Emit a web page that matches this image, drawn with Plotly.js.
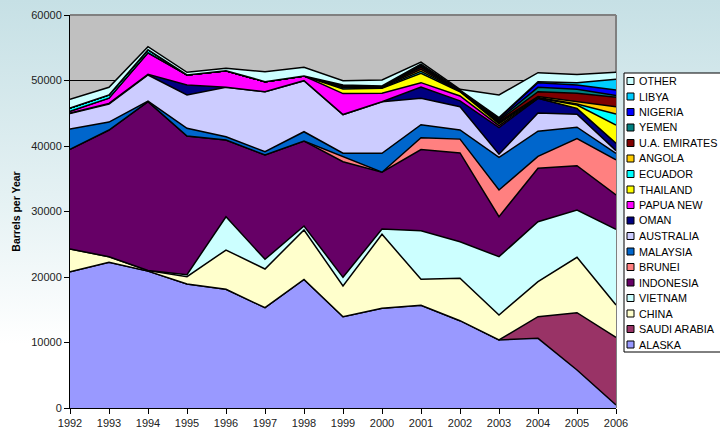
<!DOCTYPE html>
<html>
<head>
<meta charset="utf-8">
<script src="https://cdn.plot.ly/plotly-3.0.1.min.js"></script>
<style>
  html, body { margin:0; padding:0; }
  body { width:720px; height:430px; overflow:hidden;
         background: linear-gradient(to bottom, #c6e0e5 0%, #e4f1f3 45%, #ffffff 80%); }
  #chart { width:720px; height:430px; }
</style>
</head>
<body>
<div id="chart"></div>
<script>
// ---- data (Barrels per Year) ----
var years = [1992,1993,1994,1995,1996,1997,1998,1999,2000,2001,2002,2003,2004,2005,2006];

var alaska    = [20800,22240,20900,18930,18120,15310,19640,13940,15220,15680,13330,10380,10640,5800,460];
var saudi     = [0,0,0,0,0,0,0,0,0,0,0,0,3300,8750,10330];
var china     = [3470,860,100,1120,6000,5910,7540,4690,11300,3960,6470,3820,5340,8450,4930];
var vietnam   = [0,0,0,310,5080,1480,610,1320,810,7430,5590,8900,9160,7230,11560];
var indonesia = [15230,19340,25760,21170,11720,15930,12970,17650,8670,12380,13560,6100,8160,6770,5240];
var brunei    = [0,0,0,0,0,0,0,770,0,1800,2100,4080,1820,4120,5380];
var malaysia  = [3100,1210,100,1170,500,500,1420,530,2880,2000,1400,4970,3840,1750,980];
var australia = [2350,2750,3980,5090,7540,9160,7790,5900,7880,4030,3550,500,2770,1990,420];
var oman      = [100,100,100,1520,0,0,0,0,0,1720,900,4050,2250,890,1110];
var papua     = [250,800,3300,1530,2540,1530,720,3200,1280,670,740,300,0,0,0];
var thailand  = [0,0,0,0,0,0,0,700,760,1430,650,300,50,510,2790];
var ecuador   = [500,500,460,0,0,0,0,200,100,300,80,150,50,150,1680];
var angola    = [0,0,0,0,0,0,0,150,100,300,40,150,160,350,1120];
var uae       = [0,0,0,0,0,0,0,100,80,300,40,200,750,1280,1430];
var yemen     = [0,0,0,0,0,0,0,100,80,200,40,150,670,610,260];
var nigeria   = [0,0,0,0,0,0,0,60,0,200,40,200,710,660,860];
var libya     = [0,0,0,0,0,0,0,0,0,100,0,100,150,360,1630];
var other     = [1330,1160,460,410,360,1530,1320,660,920,300,120,3440,1380,1230,1070];

var seriesNames = ["ALASKA","SAUDI ARABIA","CHINA","VIETNAM","INDONESIA","BRUNEI","MALAYSIA",
                   "AUSTRALIA","OMAN","PAPUA NEW","THAILAND","ECUADOR","ANGOLA","U.A. EMIRATES",
                   "YEMEN","NIGERIA","LIBYA","OTHER"];
var seriesValues = [alaska,saudi,china,vietnam,indonesia,brunei,malaysia,australia,oman,papua,
                    thailand,ecuador,angola,uae,yemen,nigeria,libya,other];
var seriesColors = ["#9999FF","#993366","#FFFFCC","#CCFFFF","#660066","#FF8080","#0066CC",
                    "#CCCCFF","#000080","#FF00FF","#FFFF00","#00FFFF","#FFCC00","#800000",
                    "#008080","#0000FF","#00CCFF","#CCFFFF"];

var yTicks = [0,10000,20000,30000,40000,50000,60000];

// ---- traces ----
var traces = seriesNames.map(function(n, i){
  return {
    type:'scatter', mode:'lines', name:n, x:years, y:seriesValues[i],
    stackgroup:'one', fillcolor:seriesColors[i],
    line:{color:'#000000', width:1.5, shape:'linear'},
    hoverinfo:'x+y+name', showlegend:false
  };
});

// ---- custom legend (Excel-like compact box) ----
var L = 70, R = 616, T = 15, B = 408;
function px(x){ return (x - L) / (R - L); }
function py(y){ return (B - y) / (B - T); }

var shapes = [];
var annotations = [];
shapes.push({type:'rect', xref:'paper', yref:'paper', x0:px(624), x1:px(740), y0:py(352), y1:py(73),
             fillcolor:'#ffffff', line:{color:'#000000', width:1}, layer:'above'});
var n = seriesNames.length;
for (var k = 0; k < n; k++) {
  var idx = n - 1 - k;               // reversed order: OTHER on top
  var cy = 81 + 15.5 * k;
  shapes.push({type:'rect', xref:'paper', yref:'paper',
               x0:px(627), x1:px(634), y0:py(cy+3.5), y1:py(cy-3.5),
               fillcolor:seriesColors[idx], line:{color:'#000000', width:1}, layer:'above'});
  annotations.push({xref:'paper', yref:'paper', x:px(637), y:py(cy), xanchor:'left', yanchor:'middle',
                    text:seriesNames[idx], showarrow:false,
                    font:{family:'Liberation Sans, Arial, sans-serif', size:10.8, color:'#000000'}});
}
// gray frame (top & right) like the Excel plot area border
shapes.push({type:'line', xref:'paper', yref:'paper', x0:0, x1:1, y0:1, y1:1,
             line:{color:'#808080', width:2}, layer:'above'});
shapes.push({type:'line', xref:'paper', yref:'paper', x0:1, x1:1, y0:0, y1:1,
             line:{color:'#808080', width:2}, layer:'below'});

var layout = {
  width:720, height:430,
  margin:{l:L, r:720-R, t:T, b:430-B, pad:0},
  paper_bgcolor:'rgba(0,0,0,0)',
  plot_bgcolor:'#C0C0C0',
  font:{family:'Liberation Sans, Arial, sans-serif', size:11, color:'#222222'},
  showlegend:false,
  xaxis:{
    type:'linear', range:[1992,2006], tickmode:'array', tickvals:years,
    ticktext:years.map(String),
    ticks:'outside', ticklen:5, tickcolor:'#000000', tickwidth:1,
    showline:true, linecolor:'#000000', linewidth:1,
    showgrid:false, zeroline:false, fixedrange:true,
    tickfont:{size:11, color:'#222222'}
  },
  yaxis:{
    range:[0,60000], tickmode:'array', tickvals:yTicks, tickformat:'d',
    ticks:'outside', ticklen:5, tickcolor:'#000000', tickwidth:1,
    showline:true, linecolor:'#000000', linewidth:1,
    showgrid:true, gridcolor:'#000000', gridwidth:1, zeroline:false, fixedrange:true,
    tickfont:{size:11, color:'#222222'},
    title:{text:'<b>Barrels per Year</b>', font:{size:10.5, color:'#000000'}, standoff:8}
  },
  shapes:shapes,
  annotations:annotations
};

Plotly.newPlot('chart', traces, layout, {displayModeBar:false, staticPlot:true});
</script>
</body>
</html>
